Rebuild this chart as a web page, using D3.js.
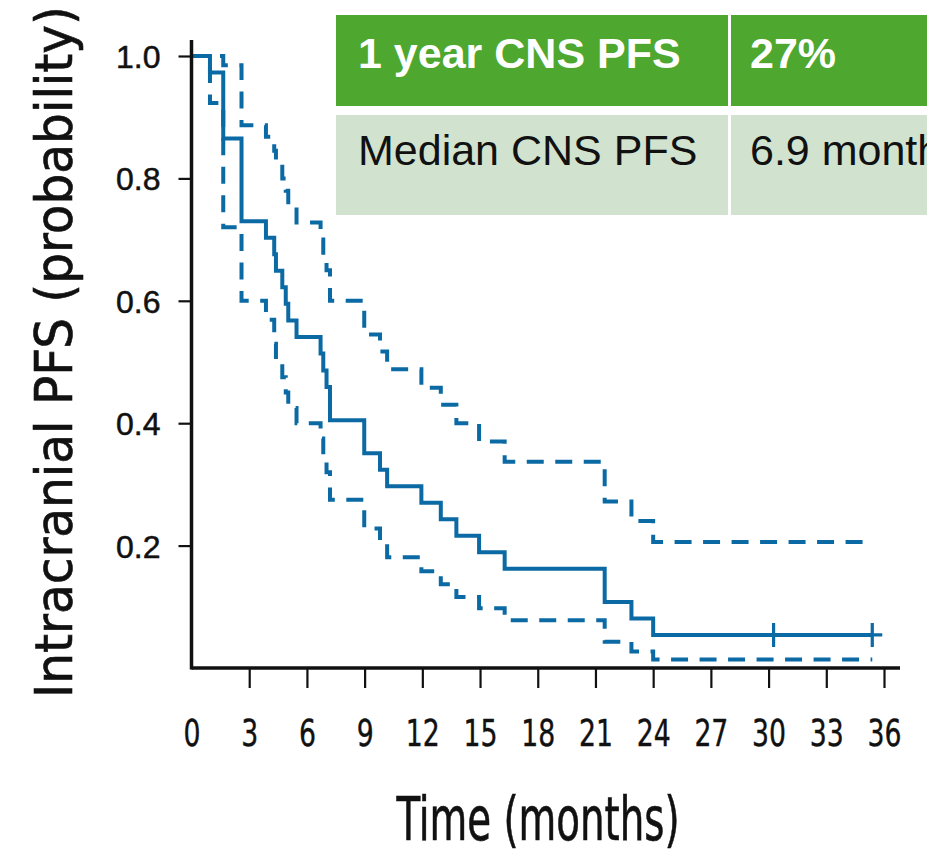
<!DOCTYPE html>
<html>
<head>
<meta charset="utf-8">
<script src="https://cdn.jsdelivr.net/npm/d3@7"></script>
<style>
  body { margin: 0; background: #fff; overflow: hidden; }
  .cond { font-family: "Liberation Sans Narrow", "DejaVu Sans Condensed", sans-serif; font-stretch: condensed; }
  .reg { font-family: "Liberation Sans", Arial, sans-serif; }
</style>
</head>
<body>
<div id="chart"></div>
<script>
// KM estimate, step times in months
const times = [0, 0.96, 1.65, 2.6, 3.87, 4.30, 4.39, 4.72, 4.90, 5.03, 5.46, 6.71, 6.85, 7.02, 7.2,
  8.98, 9.8, 10.17, 11.95, 12.96, 13.77, 14.95, 16.28, 21.48, 22.87, 24.0];
const survival = [1, 0.973, 0.865, 0.730, 0.703, 0.676, 0.649, 0.622, 0.595, 0.568, 0.541, 0.514, 0.486, 0.459, 0.405,
  0.351, 0.324, 0.297, 0.270, 0.243, 0.216, 0.189, 0.162, 0.108, 0.081, 0.054];
const upper = [1, 1, 0.985, 0.887, 0.868, 0.845, 0.825, 0.80, 0.78, 0.755, 0.728, 0.70, 0.675, 0.65, 0.60,
  0.545, 0.517, 0.488, 0.458, 0.43, 0.40, 0.37, 0.337, 0.272, 0.24, 0.206];
const lower = [1, 0.923, 0.72, 0.60, 0.569, 0.53, 0.50, 0.475, 0.45, 0.425, 0.40, 0.375, 0.343, 0.32, 0.275,
  0.228, 0.205, 0.181, 0.158, 0.137, 0.116, 0.0975, 0.078, 0.043, 0.027, 0.014];
const endTime = 35.39;
const censorTimes = [30.26, 35.39];

const xTicks = [0, 3, 6, 9, 12, 15, 18, 21, 24, 27, 30, 33, 36];
const yTicks = [0.2, 0.4, 0.6, 0.8, 1.0];

const tableRows = [
  ['1 year CNS PFS', '27%'],
  ['Median CNS PFS', '6.9 months']
];

const width = 927;
const height = 850;
const color = '#0b6aa4';

const svg = d3.select('#chart')
  .append('svg')
  .attr('width', width)
  .attr('height', height);

// X scale
const x = d3.scaleLinear()
  .domain([0, 36])
  .range([191.5, 884]);

// Y scale
const y = d3.scaleLinear()
  .domain([0, 1])
  .range([668, 56]);

// step series with the end point appended
function steps(vals) {
  const pts = times.map((t, i) => [t, vals[i]]);
  pts.push([endTime, vals[vals.length - 1]]);
  return pts;
}

const line = d3.line()
  .x(d => x(d[0]))
  .y(d => y(d[1]))
  .curve(d3.curveStepAfter);

// Confidence bands (dashed)
[upper, lower].forEach(vals => {
  svg.append('path')
    .datum(steps(vals))
    .attr('fill', 'none')
    .attr('stroke', color)
    .attr('stroke-width', 4)
    .attr('stroke-dasharray', '17,11.5')
    .attr('d', line);
});

// KM curve
svg.append('path')
  .datum(steps(survival))
  .attr('fill', 'none')
  .attr('stroke', color)
  .attr('stroke-width', 4)
  .attr('d', line);

// Censor marks
const lastS = survival[survival.length - 1];
svg.selectAll('.censor')
  .data(censorTimes)
  .enter()
  .append('path')
  .attr('class', 'censor')
  .attr('fill', 'none')
  .attr('stroke', color)
  .attr('stroke-width', 3.2)
  .attr('d', d => `M${x(d) - 10},${y(lastS)}h20M${x(d)},${y(lastS) - 12}v24`);

// Add X axis
const xAxis = svg.append('g')
  .attr('transform', `translate(0,${y(0)})`)
  .call(d3.axisBottom(x).tickValues(xTicks).tickSize(20).tickFormat(d3.format('d')));
xAxis.select('.domain').remove();
xAxis.selectAll('.tick line').attr('stroke', '#111').attr('stroke-width', 2.2)
  .filter(d => d === 0).remove();
xAxis.selectAll('.tick text')
  .attr('class', 'cond')
  .attr('y', 78)
  .attr('dy', 0)
  .attr('textLength', d => String(d).length * 17)
  .attr('lengthAdjust', 'spacingAndGlyphs')
  .style('font-size', '38px')
  .attr('fill', '#111')
  .attr('stroke', '#111')
  .attr('stroke-width', 0.4);

// Add Y axis
const yAxis = svg.append('g')
  .attr('transform', `translate(${x(0)},0)`)
  .call(d3.axisLeft(y).tickValues(yTicks).tickSize(13).tickFormat(d3.format('.1f')));
yAxis.select('.domain').remove();
yAxis.selectAll('.tick line').attr('stroke', '#111').attr('stroke-width', 2.2);
yAxis.selectAll('.tick text')
  .attr('class', 'reg')
  .attr('x', -31)
  .attr('dy', '0.36em')
  .style('font-size', '32px')
  .attr('fill', '#111')
  .attr('stroke', '#111')
  .attr('stroke-width', 0.5);

// Axis lines
svg.append('line')
  .attr('x1', x(0)).attr('x2', x(36) + 16)
  .attr('y1', y(0)).attr('y2', y(0))
  .attr('stroke', '#111').attr('stroke-width', 3.5);
svg.append('line')
  .attr('x1', x(0)).attr('x2', x(0))
  .attr('y1', y(0) + 1.5).attr('y2', y(1) - 16)
  .attr('stroke', '#111').attr('stroke-width', 3.5);

// Add X axis label
svg.append('text')
  .attr('class', 'cond')
  .attr('x', 538)
  .attr('y', 840)
  .attr('text-anchor', 'middle')
  .attr('textLength', 283)
  .attr('lengthAdjust', 'spacingAndGlyphs')
  .style('font-size', '60px')
  .attr('fill', '#111')
  .attr('stroke', '#111')
  .attr('stroke-width', 0.6)
  .text('Time (months)');

// Add Y axis label
svg.append('text')
  .attr('class', 'cond')
  .attr('transform', 'translate(72,352) rotate(-90)')
  .attr('text-anchor', 'middle')
  .attr('textLength', 692)
  .attr('lengthAdjust', 'spacingAndGlyphs')
  .style('font-size', '52px')
  .attr('fill', '#111')
  .attr('stroke', '#111')
  .attr('stroke-width', 0.6)
  .text('Intracranial PFS (probability)');

// Summary table
const rowTop = [15, 115];
const rowH = [91, 100];
const colX = [336, 731];
const fills = ['#4ea72e', '#d1e3cf'];
tableRows.forEach((row, r) => {
  svg.append('rect')
    .attr('x', colX[0]).attr('y', rowTop[r])
    .attr('width', width - colX[0]).attr('height', rowH[r])
    .attr('fill', fills[r]);
  row.forEach((cell, c) => {
    svg.append('text')
      .attr('class', 'reg')
      .attr('x', colX[c] + (c === 0 ? 22 : 19))
      .attr('y', rowTop[r] + (r === 0 ? 53 : 50))
      .style('font-size', '43px')
      .style('font-weight', r === 0 ? 'bold' : 'normal')
      .attr('fill', r === 0 ? '#fff' : '#111')
      .text(cell);
  });
});
// column divider
svg.append('line')
  .attr('x1', colX[1] - 1.5).attr('x2', colX[1] - 1.5)
  .attr('y1', rowTop[0]).attr('y2', rowTop[1] + rowH[1])
  .attr('stroke', '#fff').attr('stroke-width', 3);
</script>
</body>
</html>
